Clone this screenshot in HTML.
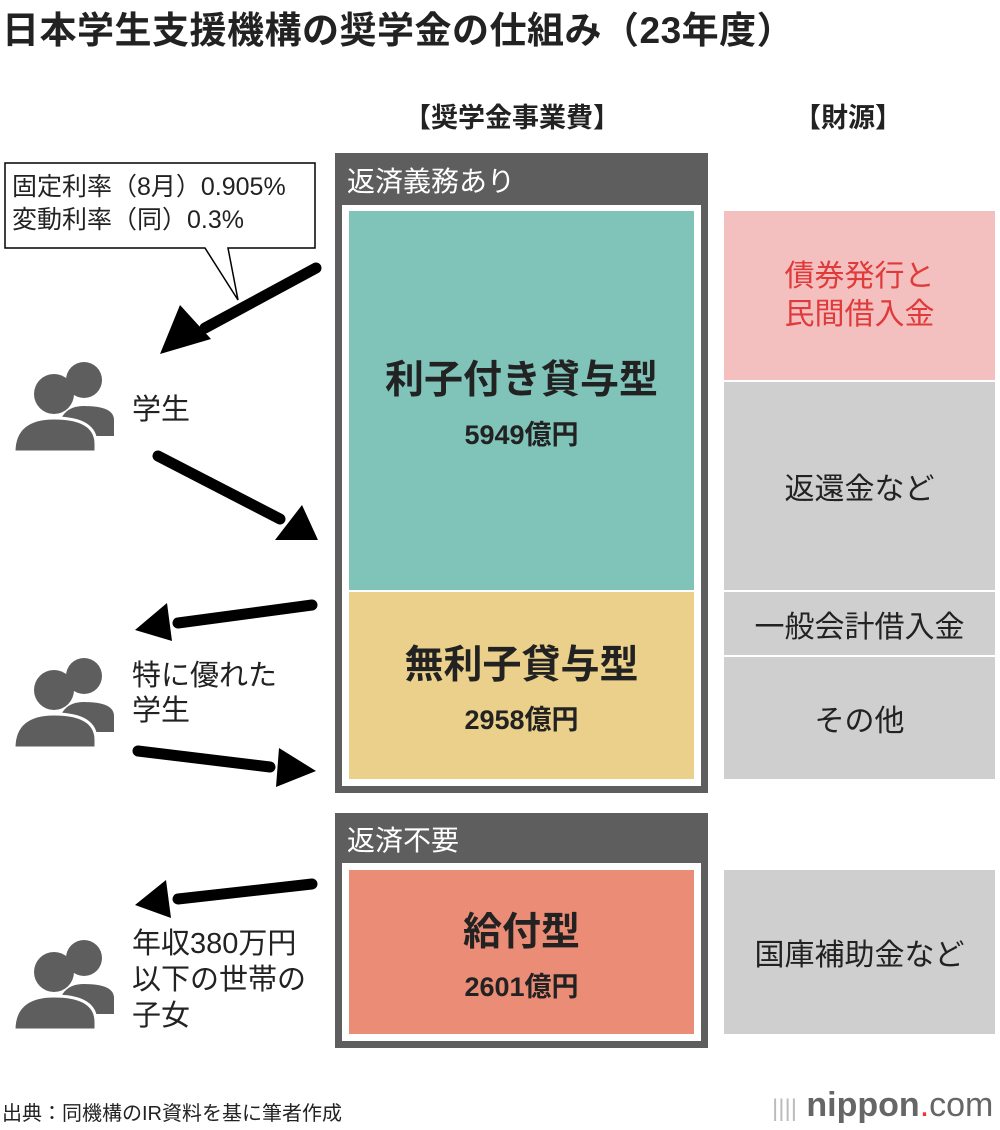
<!DOCTYPE html>
<html><head><meta charset="utf-8"><style>
body{margin:0;width:1000px;height:1130px;background:#fff;position:relative;overflow:hidden;font-family:"Liberation Sans","Noto Sans CJK JP",sans-serif;color:#222}
.a{position:absolute}
.c{display:flex;align-items:center;justify-content:center;text-align:center;flex-direction:column}
</style></head><body>
<div class="a" style="left:2px;top:0px;font-size:37px;font-weight:bold;letter-spacing:0.5px;white-space:nowrap">日本学生支援機構の奨学金の仕組み（23年度）</div>
<div class="a" style="left:404px;top:96px;font-size:27px;font-weight:bold">【奨学金事業費】</div>
<div class="a" style="left:794px;top:96px;font-size:27px;font-weight:bold">【財源】</div>

<div class="a" style="left:335px;top:153px;width:373px;height:640px;background:#5e5e5e"></div>
<div class="a" style="left:347px;top:160px;color:#fff;font-size:28px">返済義務あり</div>
<div class="a" style="left:342px;top:205px;width:359px;height:581px;background:#fff"></div>
<div class="a c" style="left:349px;top:211px;width:345px;height:379px;background:#7fc3b9"><div style="font-size:39px;font-weight:bold">利子付き貸与型</div><div style="font-size:27px;font-weight:bold;margin-top:8px">5949億円</div></div>
<div class="a c" style="left:349px;top:592px;width:345px;height:187px;background:#ebd08b"><div style="font-size:39px;font-weight:bold">無利子貸与型</div><div style="font-size:27px;font-weight:bold;margin-top:8px">2958億円</div></div>

<div class="a" style="left:335px;top:813px;width:373px;height:235px;background:#5e5e5e"></div>
<div class="a" style="left:347px;top:819px;color:#fff;font-size:28px">返済不要</div>
<div class="a" style="left:342px;top:863px;width:359px;height:178px;background:#fff"></div>
<div class="a c" style="left:349px;top:870px;width:345px;height:164px;background:#eb8c76"><div style="font-size:39px;font-weight:bold">給付型</div><div style="font-size:27px;font-weight:bold;margin-top:8px">2601億円</div></div>

<div class="a c" style="left:724px;top:211px;width:271px;height:169px;background:#f3c0bf;color:#e03a3a;font-size:30px;line-height:38px">債券発行と<br>民間借入金</div>
<div class="a c" style="left:724px;top:382px;width:271px;height:208px;background:#cfcfcf;font-size:30px">返還金など</div>
<div class="a c" style="left:724px;top:592px;width:271px;height:63px;background:#cfcfcf;font-size:30px">一般会計借入金</div>
<div class="a c" style="left:724px;top:657px;width:271px;height:122px;background:#cfcfcf;font-size:30px">その他</div>
<div class="a c" style="left:724px;top:870px;width:271px;height:164px;background:#cfcfcf;font-size:30px">国庫補助金など</div>

<svg class="a" style="left:0;top:0" width="1000" height="1130">
<defs><g id="p" fill="#5e5e5e"><circle cx="70" cy="24" r="18"/><path d="M44 80 Q44 50 70 50 Q100 50 100 64 L100 80 Z"/><circle cx="40" cy="38" r="20"/><path d="M0 96 Q0 62 40 62 Q82 62 82 88 L82 96 Z" stroke="#fff" stroke-width="3"/></g></defs>
<use href="#p" transform="translate(14,356)"/>
<use href="#p" transform="translate(14,652)"/>
<use href="#p" transform="translate(14,934)"/>
<g stroke="#000" stroke-width="11" stroke-linecap="round">
<line x1="316" y1="268" x2="205" y2="328"/>
<line x1="158" y1="456" x2="280" y2="519"/>
<line x1="312" y1="605" x2="178" y2="623"/>
<line x1="138" y1="751" x2="270" y2="767"/>
<line x1="312" y1="884" x2="178" y2="899"/>
</g>
<g fill="#000">
<polygon points="160,354 180,305 211,339"/>
<polygon points="318,540 275,540 302,505"/>
<polygon points="135,630 167,603 172,641"/>
<polygon points="316,771 276,787 279,748"/>
<polygon points="135,905 166,880 171,918"/>
</g>
<path d="M5 163 H315 V248 H228 L238 300 L205 248 H5 Z" fill="#fff" stroke="#000" stroke-width="1.5"/>
</svg>
<div class="a" style="left:12px;top:171px;font-size:25px;line-height:33px;white-space:nowrap">固定利率（8月）0.905%<br>変動利率（同）0.3%</div>
<div class="a" style="left:132px;top:386px;font-size:29px">学生</div>
<div class="a" style="left:132px;top:659px;font-size:29px;line-height:35px">特に優れた<br>学生</div>
<div class="a" style="left:132px;top:926px;font-size:29px;line-height:36px;white-space:nowrap">年収380万円<br>以下の世帯の<br>子女</div>
<div class="a" style="left:2px;top:1097px;font-size:20px;white-space:nowrap">出典：同機構のIR資料を基に筆者作成</div>
<div class="a" style="left:772px;top:1086px;font-size:34px;color:#666;white-space:nowrap"><span style="color:#bbb;font-size:24px">||||</span> <b>nippon</b><span style="color:#e33">.</span>com</div>
</body></html>
